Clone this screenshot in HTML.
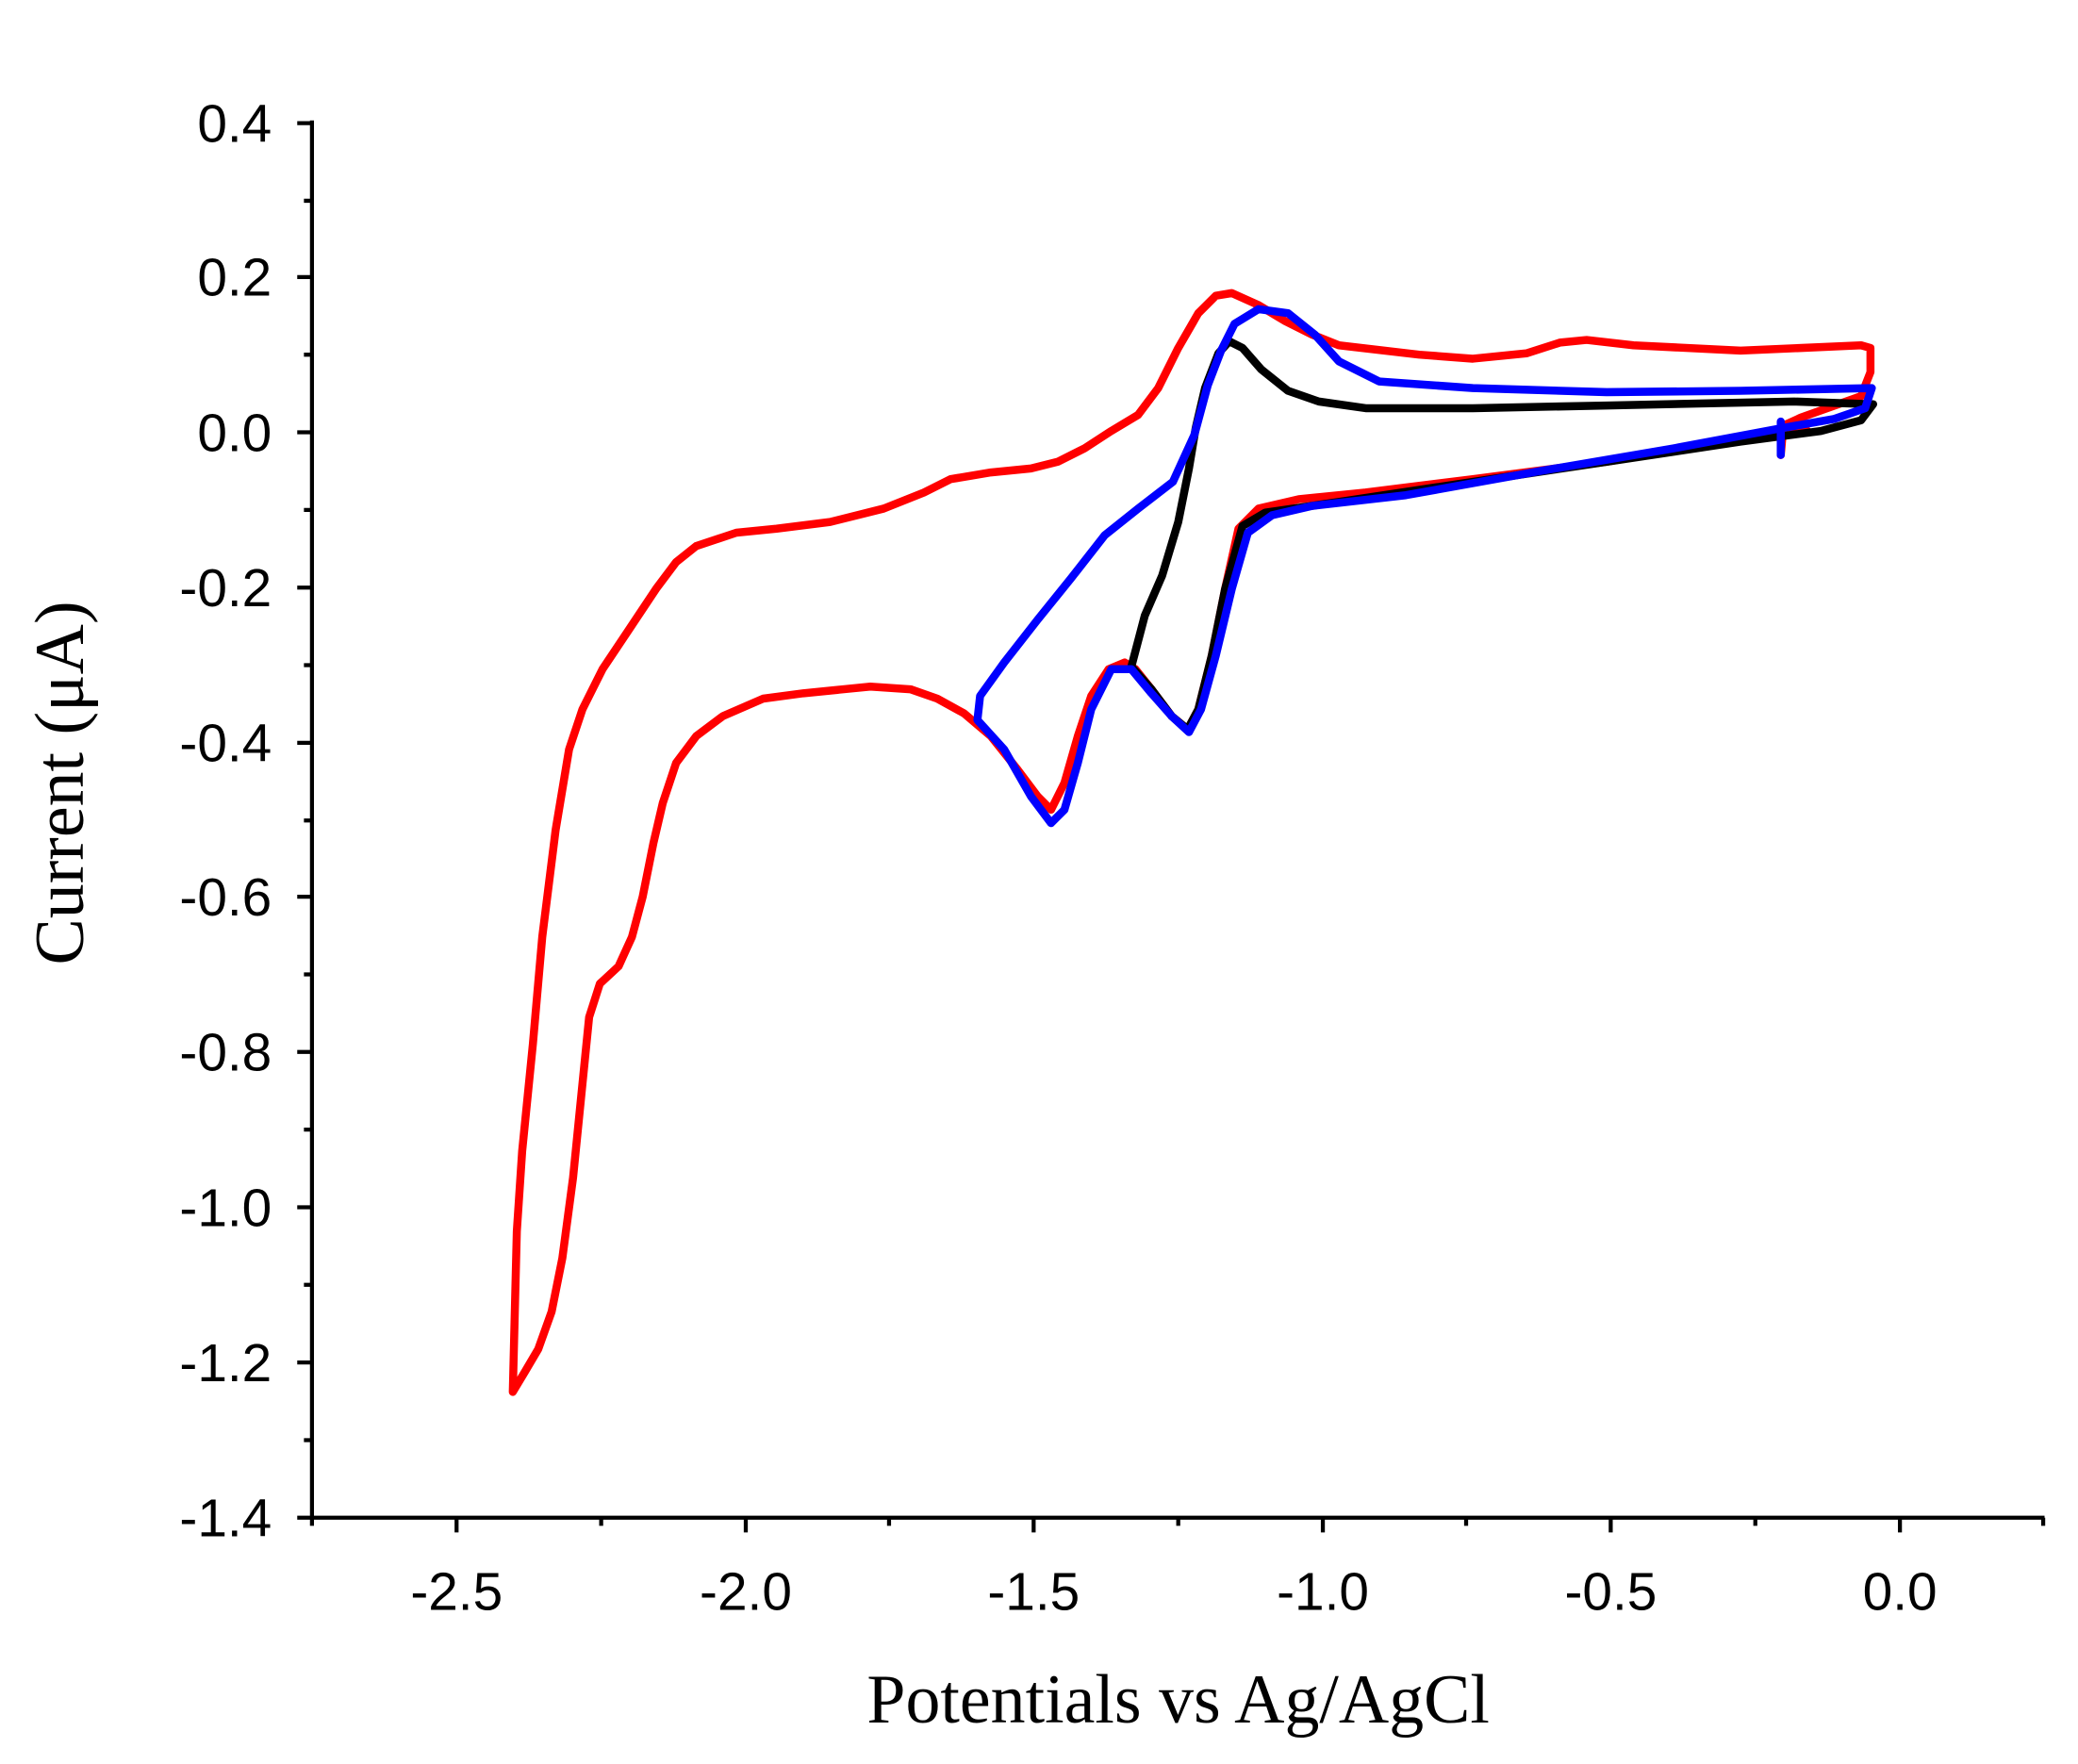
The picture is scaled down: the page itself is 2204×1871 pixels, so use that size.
<!DOCTYPE html>
<html><head><meta charset="utf-8"><style>
html,body{margin:0;padding:0;background:#fff;}
svg{display:block;}
</style></head><body>
<svg width="2204" height="1871" viewBox="0 0 1552 1318" preserveAspectRatio="none" xmlns="http://www.w3.org/2000/svg">
<rect width="1552" height="1318" fill="#fff"/>
<g stroke="#000" stroke-width="3" fill="none">
<line x1="233" y1="90" x2="233" y2="1135"/>
<line x1="232" y1="1134" x2="1527" y2="1134"/>
<path d="M222 92H233M222 207H233M222 323H233M222 439H233M222 555H233M222 670H233M222 786H233M222 902H233M222 1018H233M222 1134H233"/>
<path d="M227 150H233M227 265H233M227 381H233M227 497H233M227 613H233M227 728H233M227 844H233M227 960H233M227 1076H233"/>
<path d="M341 1134V1145M557 1134V1145M772 1134V1145M988 1134V1145M1203 1134V1145M1419 1134V1145"/>
<path d="M233 1134V1140M449 1134V1140M664 1134V1140M880 1134V1140M1095 1134V1140M1311 1134V1140M1526 1134V1140"/>
</g>
<g font-family="Liberation Sans, sans-serif" font-size="40" fill="#000" text-anchor="end">
<text x="203" y="106">0.4</text>
<text x="203" y="221">0.2</text>
<text x="203" y="337">0.0</text>
<text x="203" y="453">-0.2</text>
<text x="203" y="569">-0.4</text>
<text x="203" y="684">-0.6</text>
<text x="203" y="800">-0.8</text>
<text x="203" y="916">-1.0</text>
<text x="203" y="1032">-1.2</text>
<text x="203" y="1148">-1.4</text>
</g>
<g font-family="Liberation Sans, sans-serif" font-size="40" fill="#000" text-anchor="middle">
<text x="341" y="1203">-2.5</text>
<text x="557" y="1203">-2.0</text>
<text x="772" y="1203">-1.5</text>
<text x="988" y="1203">-1.0</text>
<text x="1203" y="1203">-0.5</text>
<text x="1419" y="1203">0.0</text>
</g>
<text x="880" y="1287" font-family="Liberation Serif, serif" font-size="52" text-anchor="middle">Potentials vs Ag/AgCl</text>
<text transform="translate(62,585) rotate(-90)" font-family="Liberation Serif, serif" font-size="52" text-anchor="middle">Current (μA)</text>
<g fill="none" stroke-width="6" stroke-linejoin="round" stroke-linecap="round">
<path stroke="#f00" d="M1330 340 L1332 318 L1345 312 L1390 296 L1397 278 L1397 260 L1390 258 L1300 262 L1220 258 L1185 254 L1165 256 L1140 264 L1100 268 L1060 265 L1000 258 L980 250 L960 240 L940 228 L920 219 L908 221 L895 234 L880 260 L865 290 L850 310 L830 322 L810 335 L790 345 L770 350 L740 353 L710 358 L690 368 L660 380 L620 390 L580 395 L550 398 L520 408 L505 420 L490 440 L470 470 L450 500 L435 530 L425 560 L415 620 L405 700 L398 780 L390 860 L386 920 L383 1040 L392 1025 L402 1008 L412 980 L420 940 L428 880 L435 810 L440 760 L448 735 L462 722 L472 700 L480 670 L488 630 L495 600 L505 570 L520 550 L540 535 L570 522 L600 518 L650 513 L680 515 L700 522 L720 533 L740 550 L760 575 L775 595 L785 605 L795 585 L805 550 L815 520 L828 500 L840 495 L848 500 L860 515 L875 535 L887 545 L895 530 L905 490 L915 440 L925 395 L940 380 L970 373 L1020 368 L1100 358 L1200 345 L1300 328 L1350 322"/>
<path stroke="#000" d="M1398 302 L1340 300 L1200 303 L1100 305 L1020 305 L985 300 L962 292 L942 276 L928 260 L918 255 L910 264 L900 290 L893 320 L888 350 L880 390 L868 430 L855 460 L845 498 L860 515 L875 535 L887 545 L895 530 L905 490 L915 440 L928 393 L945 383 L1000 375 L1100 360 L1200 345 L1300 330 L1360 322 L1390 314 L1399 302"/>
<path stroke="#00f" d="M1330 340 L1330 315 M1398 290 L1300 292 L1200 293 L1100 290 L1030 285 L1000 270 L982 250 L962 234 L940 231 L922 242 L912 262 L902 288 L892 325 L876 360 L850 380 L825 400 L800 432 L775 463 L750 495 L732 520 L730 538 L750 560 L770 595 L785 615 L795 605 L805 570 L815 530 L830 500 L845 500 L860 518 L875 535 L888 547 L897 530 L908 490 L920 440 L932 398 L950 385 L980 378 L1050 370 L1150 352 L1250 335 L1330 320 L1370 313 L1393 305 L1398 290"/>
</g>
</svg>
</body></html>
